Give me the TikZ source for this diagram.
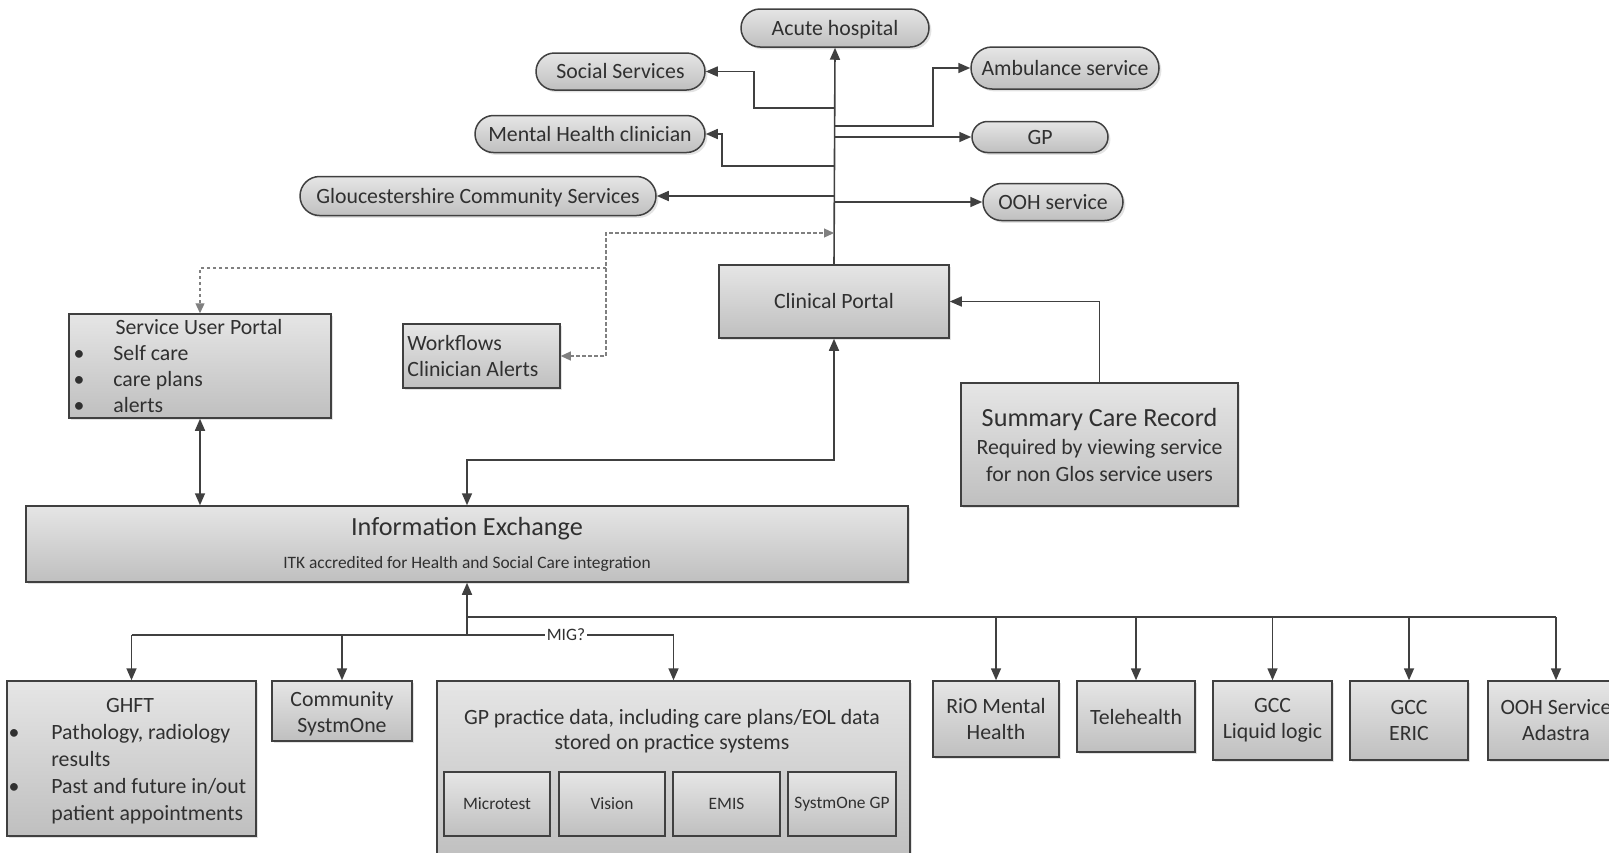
\documentclass[tikz,border=0pt]{standalone}
\usepackage{fontspec}
\setmainfont{Carlito}
\usetikzlibrary{arrows.meta,shapes.misc,shadows,calc}
\definecolor{ln}{HTML}{404040}
\definecolor{tx}{HTML}{303030}
\newcommand\fsN{\fontsize{10.9}{13}\selectfont}
\newcommand\fsT{\fontsize{13.1}{15}\selectfont}
\newcommand\fsS{\fontsize{8.7}{10.5}\selectfont}
\begin{document}
\begin{tikzpicture}[x=0.5pt,y=-0.5pt,
  shadebase/.style={draw=ln, line width=0.75pt, top color=black!10, bottom color=black!25, text=tx, inner sep=0pt},
  shad/.style={drop shadow={shadow xshift=1.2pt,shadow yshift=-1.2pt,opacity=0.22}},
  pill/.style={shadebase, shad, rounded rectangle, font=\fsN, text height=0.7em, text depth=0pt},
  boxr/.style={shadebase, shad, rectangle, font=\fsN, align=center},
  subbox/.style={shadebase, rectangle, line width=0.6pt, font=\fsS, align=center},
  txt/.style={text=tx, font=\fsN, inner sep=0pt, yshift=-1.6pt},
  plain/.style={draw=ln, line width=0.8pt},
  arr/.style={plain, -{Triangle[length=6pt,width=5pt]}},
  arrtwo/.style={plain, {Triangle[length=6pt,width=5pt]}-{Triangle[length=6pt,width=5pt]}},
  darr/.style={draw=black!50, line width=0.6pt, dash pattern=on 1.6pt off 1.4pt, -{Triangle[length=5pt,width=4.5pt]}},
  darrtwo/.style={draw=black!50, line width=0.6pt, dash pattern=on 1.6pt off 1.4pt, {Triangle[length=5pt,width=4.5pt]}-{Triangle[length=5pt,width=4.5pt]}},
]
\useasboundingbox (0,0) rectangle (1609,852);
\clip (0,0) rectangle (1609,852);

% top pills
\node[pill, minimum width=94pt, minimum height=19pt] (acute) at (835,28) {Acute hospital};
\node[pill, minimum width=84.5pt, minimum height=18.5pt] (social) at (620.5,71.5) {Social Services};
\node[pill, minimum width=94pt, minimum height=21pt] (amb) at (1065,68) {Ambulance service};
\node[pill, minimum width=115pt, minimum height=18.5pt] (mh) at (590,134) {Mental Health clinician};
\node[pill, minimum width=68pt, minimum height=15.5pt] (gp) at (1040,137) {GP};
\node[pill, minimum width=178pt, minimum height=19.5pt] (glos) at (478,196) {Gloucestershire Community Services};
\node[pill, minimum width=70pt, minimum height=18.5pt] (ooh) at (1053,202) {OOH service};

% middle boxes
\node[boxr, minimum width=115pt, minimum height=36.5pt] (cp) at (834,301.5) {Clinical Portal};
\node[boxr, minimum width=138.5pt, minimum height=61.5pt] (scr) at (1099.5,444.5) {};
\node[txt, font=\fsT, anchor=mid] (scrt) at (1099.5,419) {Summary Care Record};
\node[txt, anchor=mid] (scr1) at (1099.5,447) {Required by viewing service};
\node[txt, anchor=mid] (scr2) at (1099.5,474) {for non Glos service users};

\node[boxr, minimum width=131pt, minimum height=52pt] (sup) at (200,366) {};
\node[txt, anchor=mid] (supt) at (199,327) {Service User Portal};
\foreach \yy/\tt [count=\i] in {353/Self care, 379/care plans, 405/alerts}{
  \node[txt, anchor=mid] (supb\i) at (79,\yy) {•};
  \node[txt, anchor=mid west] (supl\i) at (113,\yy) {\tt};
}

\node[boxr, minimum width=78.5pt, minimum height=32pt] (wf) at (481.5,356) {};
\node[txt, anchor=mid west] (wf1) at (407,343) {Workflows};
\node[txt, anchor=mid west] (wf2) at (407,369) {Clinician Alerts};

\node[boxr, minimum width=441pt, minimum height=38pt] (ie) at (467,544) {};
\node[txt, font=\fsT, anchor=mid] (iet) at (467,528) {Information Exchange};
\node[txt, font=\fsS, anchor=mid] (ies) at (467,561) {ITK accredited for Health and Social Care integration};

% bottom boxes
\node[boxr, minimum width=124.5pt, minimum height=77.5pt] (ghft) at (131.5,758.5) {};
\node[txt, anchor=mid] (ghftt) at (130,705) {GHFT};
\node[txt, anchor=mid] (gb1) at (14,732) {•};
\node[txt, anchor=mid] (gb2) at (14,786) {•};
\node[txt, anchor=mid west] (g1) at (51,732) {Pathology, radiology};
\node[txt, anchor=mid west] (g2) at (51,759) {results};
\node[txt, anchor=mid west] (g3) at (51,786) {Past and future in/out};
\node[txt, anchor=mid west] (g4) at (51,813) {patient appointments};

\node[boxr, minimum width=70pt, minimum height=30pt] (cs) at (342,711) {};
\node[txt, anchor=mid] (cs1) at (342,699) {Community};
\node[txt, anchor=mid] (cs2) at (342,725) {SystmOne};

\node[boxr, minimum width=236.5pt, minimum height=89.5pt] (gpp) at (673.5,770.5) {};
\node[txt, anchor=mid] (gpp1) at (672,717) {GP practice data, including care plans/EOL data};
\node[txt, anchor=mid] (gpp2) at (672,742) {stored on practice systems};
\node[subbox, minimum width=53pt, minimum height=32pt] (micro) at (497,804) {Microtest};
\node[subbox, minimum width=53pt, minimum height=32pt] (vision) at (612,804) {Vision};
\node[subbox, minimum width=53.5pt, minimum height=32pt] (emis) at (726.5,804) {EMIS};
\node[subbox, minimum width=54pt, minimum height=32pt] (s1gp) at (842,804) {SystmOne GP};

\node[boxr, minimum width=63pt, minimum height=38pt] (rio) at (996,719) {RiO Mental\\Health};
\node[boxr, minimum width=59pt, minimum height=35.5pt] (tele) at (1136,716.5) {Telehealth};
\node[boxr, minimum width=59.5pt, minimum height=39.5pt] (gccll) at (1272.5,720.5) {GCC\\Liquid logic};
\node[boxr, minimum width=59pt, minimum height=39.5pt] (eric) at (1409,720.5) {GCC\\ERIC};
\node[boxr, minimum width=68pt, minimum height=39.5pt] (oohad) at (1556,720.5) {OOH Service\\Adastra};

% top connectors
\draw[arr] (cp.north) -- (acute.south);
\coordinate (jSoc) at (834,108);
\coordinate (jAmb) at (834,126);
\coordinate (jMH) at (834,166);
\draw[arr] (jSoc) -- (754,108) |- (social.east);
\draw[arr] (jAmb) -- (933,126) |- (amb.west);
\draw[arr] (cp.north |- gp.west) -- (gp.west);
\draw[arr] (jMH) -- (722,166) |- (mh.east);
\draw[arr] (cp.north |- glos.east) -- (glos.east);
\draw[arr] (cp.north |- ooh.west) -- (ooh.west);

% dashed connectors
\coordinate (jD) at (834,233);
\coordinate (dv) at (606,268);
\draw[darrtwo] (wf.east) -| (606,233) -- (jD);
\draw[darr] (dv) -| (sup.north);

% middle connectors
\coordinate (k) at (467,460);
\draw[arrtwo] (cp.south) |- (k) -- (ie.north);
\draw[arrtwo] (sup.south) -- (sup.south |- ie.north);
\draw[arr] (scr.north) |- (cp.east);

% bottom connectors
\coordinate (hub) at (467,635);
\coordinate (hubU) at (467,617);
\draw[arr] (hub) -- (ie.south);
\draw[plain] (hubU) -- (oohad.north |- hubU);
\foreach \nm in {rio,tele,gccll,eric,oohad}{
  \draw[arr] (\nm.north |- hubU) -- (\nm.north);
}
\draw[plain] (ghft.north |- hub) -- (gpp.north |- hub);
\foreach \nm in {ghft,cs,gpp}{
  \draw[arr] (\nm.north |- hub) -- (\nm.north);
}
\node[fill=white, text=tx, font=\fsS, inner sep=1pt] (mig) at (566,635) {MIG?};
\end{tikzpicture}
\end{document}
